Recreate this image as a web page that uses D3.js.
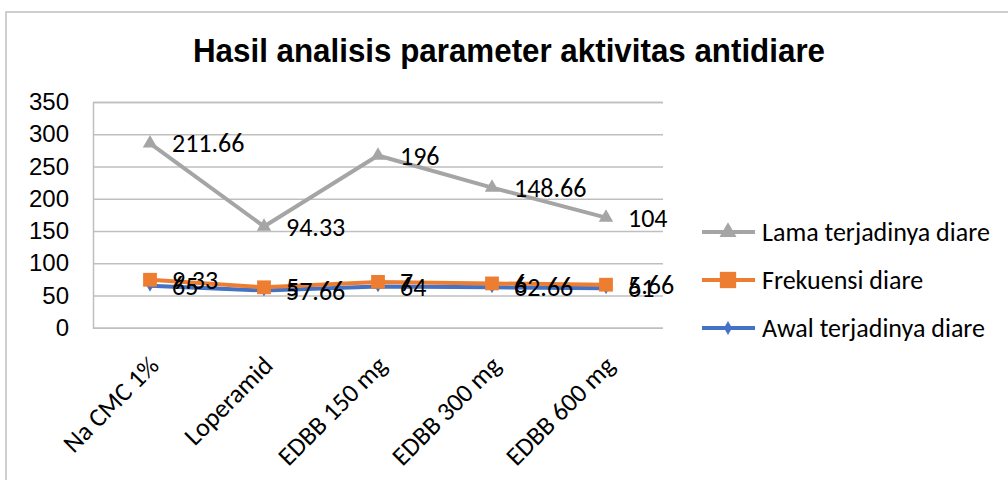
<!DOCTYPE html>
<html><head><meta charset="utf-8">
<script src="https://cdn.jsdelivr.net/npm/d3@7"></script>
<style>html,body{margin:0;padding:0;background:#fff;}svg{display:block;}</style>
</head><body>
<svg id="c" width="1008" height="480"></svg>
<script>
const categories = ["Na CMC 1%", "Loperamid", "EDBB 150 mg", "EDBB 300 mg", "EDBB 600 mg"];
const awal = [65, 57.66, 64, 62.66, 61];
const frekuensi = [9.33, 5, 7, 6, 5.66];
const lama = [211.66, 94.33, 196, 148.66, 104];
const yTicks = [0, 50, 100, 150, 200, 250, 300, 350];
const seriesNames = ["Awal terjadinya diare", "Frekuensi diare", "Lama terjadinya diare"];
const title = "Hasil analisis parameter aktivitas antidiare";

const svg = d3.select("#c");
const calibri = "Carlito, Lato, 'Open Sans', sans-serif";
svg.append("rect").attr("x", 6).attr("y", 12).attr("width", 1010).attr("height", 480)
  .attr("fill", "#fff").attr("stroke", "#BFBFBF").attr("stroke-width", 1.5);

const x = d3.scaleBand().domain(categories).range([93, 663]);
const y = d3.scaleLinear().domain([0, 350]).range([327.7, 102]);

// gridlines
const yAxis = d3.axisLeft(y).tickValues(yTicks).tickSize(-(663 - 93)).tickFormat(d3.format("d"));
const ga = svg.append("g").attr("transform", "translate(93,0)").call(yAxis);
ga.select(".domain").attr("stroke", "#BFBFBF").attr("stroke-width", 1.5);
ga.selectAll(".tick line").attr("stroke", "#BFBFBF").attr("stroke-width", 1.5);
ga.selectAll(".tick text").attr("x", -24).attr("font-family", "'Liberation Sans', Arial, sans-serif")
  .attr("font-size", 24).attr("fill", "#000");

// x labels
const gx = svg.append("g").attr("transform", "translate(0,327.7)")
  .call(d3.axisBottom(x).tickSize(0));
gx.select(".domain").remove();
gx.selectAll(".tick text")
  .attr("font-family", calibri).attr("font-size", 26).attr("fill", "#000")
  .attr("text-anchor", "end").attr("y", 0).attr("dy", "0.35em")
  .attr("transform", "translate(4,33) rotate(-45)");

// stack
const stacked = categories.map((c, i) => ({cat: c, awal: awal[i], frekuensi: frekuensi[i], lama: lama[i]}));
const stack = d3.stack().keys(["awal", "frekuensi", "lama"])(stacked);
const colors = {awal: "#4472C4", frekuensi: "#ED7D31", lama: "#A5A5A5"};
const cx = d => x(d.data.cat) + x.bandwidth() / 2;
const line = d3.line().x(cx).y(d => y(d[1]));

const symbols = {awal: d3.symbolDiamond, frekuensi: d3.symbolSquare, lama: d3.symbolTriangle};
const symSize = {awal: 40, frekuensi: 190, lama: 90};

stack.forEach(s => {
  svg.append("path").datum(s).attr("d", line).attr("fill", "none")
    .attr("stroke", colors[s.key]).attr("stroke-width", 4).attr("stroke-linejoin", "round");
  svg.append("g").selectAll("path").data(s).join("path")
    .attr("d", d3.symbol().type(symbols[s.key]).size(symSize[s.key]))
    .attr("transform", d => `translate(${cx(d)},${y(d[1])})`)
    .attr("fill", colors[s.key]);
});
stack.forEach(s => {
  svg.append("g").selectAll("text").data(s).join("text")
    .attr("x", d => cx(d) + 22).attr("y", d => y(d[1])).attr("dy", "0.35em")
    .attr("font-family", calibri).attr("font-size", 26).attr("fill", "#000")
    .text(d => d.data[s.key]);
});

// title
svg.append("text").attr("x", 193).attr("y", 62).attr("font-family", "'Liberation Sans', Arial, sans-serif")
  .attr("font-weight", "bold").attr("font-size", 33).attr("textLength", 632)
  .attr("lengthAdjust", "spacingAndGlyphs").attr("fill", "#000").text(title);

// legend
const legendOrder = ["lama", "frekuensi", "awal"];
const legendNames = {awal: seriesNames[0], frekuensi: seriesNames[1], lama: seriesNames[2]};
const legendY = [232, 280, 328];
legendOrder.forEach((k, i) => {
  const g = svg.append("g").attr("transform", `translate(0,${legendY[i]})`);
  g.append("line").attr("x1", 702).attr("x2", 755).attr("stroke", colors[k]).attr("stroke-width", 4);
  g.append("path").attr("d", d3.symbol().type(symbols[k]).size(symSize[k] * 1.4)).attr("transform", "translate(728,0)").attr("fill", colors[k]);
  g.append("text").attr("x", 762).attr("dy", "0.35em").attr("font-family", calibri)
    .attr("font-size", 26).attr("fill", "#000").text(legendNames[k]);
});
</script>
</body></html>
